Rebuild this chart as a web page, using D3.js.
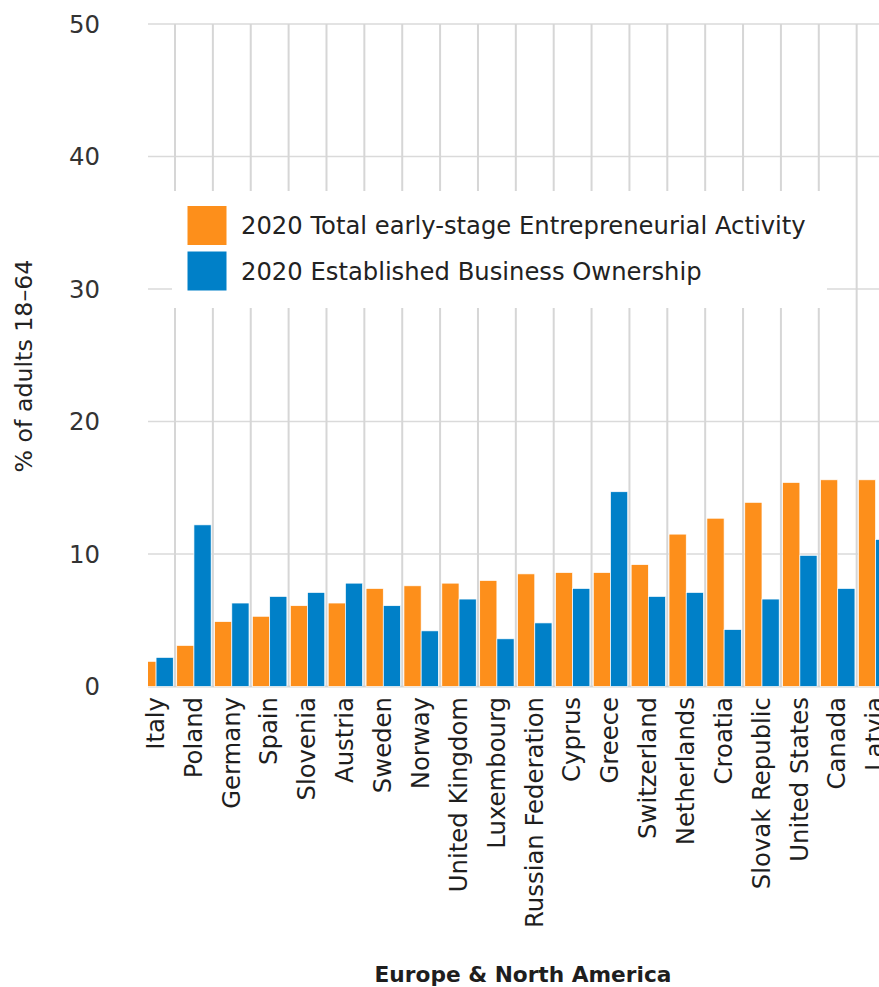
<!DOCTYPE html>
<html>
<head>
<meta charset="utf-8">
<script src="https://cdn.jsdelivr.net/npm/d3@7"></script>
<style>
  html, body { margin: 0; padding: 0; background: #fff; }
  svg { display: block; }
</style>
</head>
<body>
<div id="chart"></div>
<script>
const categories = ["Italy", "Poland", "Germany", "Spain", "Slovenia", "Austria", "Sweden", "Norway",
  "United Kingdom", "Luxembourg", "Russian Federation", "Cyprus", "Greece", "Switzerland",
  "Netherlands", "Croatia", "Slovak Republic", "United States", "Canada", "Latvia"];
const teaValues = [1.9, 3.1, 4.9, 5.3, 6.1, 6.3, 7.4, 7.6, 7.8, 8.0, 8.5, 8.6, 8.6, 9.2, 11.5, 12.7, 13.9, 15.4, 15.6, 15.6];
const eboValues = [2.2, 12.2, 6.3, 6.8, 7.1, 7.8, 6.1, 4.2, 6.6, 3.6, 4.8, 7.4, 14.7, 6.8, 7.1, 4.3, 6.6, 9.9, 7.4, 11.1];
const seriesNames = ["2020 Total early-stage Entrepreneurial Activity", "2020 Established Business Ownership"];
const yTicks = [0, 10, 20, 30, 40, 50];
const yTitle = "% of adults 18–64";
const xTitle = "Europe & North America";

const W = 879, H = 987;
const colors = ["#fd8f1b", "#0080c8"];
const FONT = "'DejaVu Sans', 'Open Sans', sans-serif";

const svg = d3.select("#chart").append("svg").attr("width", W).attr("height", H);

// font size that makes a string reach a target width
function fitSize(str, target, weight) {
  const t = svg.append("text").attr("font-family", FONT).attr("font-size", 20)
    .attr("font-weight", weight || 400).text(str);
  const w = t.node().getComputedTextLength();
  t.remove();
  return 20 * target / w;
}
const legendSize = fitSize(seriesNames[0], 565);
const labelSize = fitSize("Russian Federation", 231);
const xTitleSize = fitSize(xTitle, 297, 600);
const yTitleSize = fitSize(yTitle, 213);
const tickSize = fitSize("50", 31);

const plotLeft = 148, plotTop = 24, plotBottom = 686.5;
const bandStep = 37.87;
const firstBand = 175 - bandStep;

const x = d3.scaleBand().domain(categories)
  .range([firstBand, firstBand + bandStep * categories.length]).paddingInner(0).paddingOuter(0);
const xSub = d3.scaleBand().domain([0, 1]).range([0, x.bandwidth()]).paddingOuter(0.1).paddingInner(0);
const y = d3.scaleLinear().domain([0, 50]).range([plotBottom, plotTop]);

svg.append("defs").append("clipPath").attr("id", "plotclip")
  .append("rect").attr("x", plotLeft).attr("y", 0).attr("width", W - plotLeft).attr("height", plotBottom + 2);

const plot = svg.append("g").attr("clip-path", "url(#plotclip)");

// horizontal gridlines
plot.append("g").selectAll("line").data(yTicks.filter(d => d > 0)).join("line")
  .attr("x1", plotLeft).attr("x2", W)
  .attr("y1", d => y(d)).attr("y2", d => y(d))
  .attr("stroke", "#dadada").attr("stroke-width", 1.5);

// vertical gridlines at band boundaries
const bounds = categories.slice(1).map(c => x(c));
plot.append("g").selectAll("line").data(bounds).join("line")
  .attr("x1", d => d).attr("x2", d => d)
  .attr("y1", plotTop).attr("y2", plotBottom)
  .attr("stroke", "#d6d6d6").attr("stroke-width", 2);

// baseline
plot.append("line").attr("x1", plotLeft).attr("x2", W)
  .attr("y1", y(0)).attr("y2", y(0))
  .attr("stroke", "#d3d3d3").attr("stroke-width", 2);

// bars
const rows = categories.map((c, i) => ({ c, v: [teaValues[i], eboValues[i]] }));
const grp = plot.append("g").selectAll("g").data(rows).join("g")
  .attr("transform", d => `translate(${x(d.c)},0)`);
grp.selectAll("rect").data(d => d.v.map((v, k) => ({ v, k }))).join("rect")
  .attr("x", d => xSub(d.k))
  .attr("width", xSub.bandwidth())
  .attr("y", d => y(d.v))
  .attr("height", d => y(0) - y(d.v))
  .attr("fill", d => colors[d.k])
  .attr("stroke", "#ffffff").attr("stroke-width", 0.7);

// y axis labels
svg.append("g").selectAll("text").data(yTicks).join("text")
  .attr("x", 100).attr("y", d => y(d)).attr("dy", "0.36em")
  .attr("text-anchor", "end")
  .attr("font-family", FONT).attr("font-size", tickSize).attr("fill", "#333")
  .text(d => d);

// y title
svg.append("text")
  .attr("transform", "translate(23,366) rotate(-90)")
  .attr("text-anchor", "middle").attr("dy", "0.36em")
  .attr("font-family", FONT).attr("font-size", yTitleSize).attr("fill", "#222")
  .text(yTitle);

// x labels
svg.append("g").selectAll("text").data(categories).join("text")
  .attr("transform", d => `translate(${x(d) + x.bandwidth() / 2 - 1},697) rotate(-90)`)
  .attr("text-anchor", "end").attr("dy", "0.36em")
  .attr("font-family", FONT).attr("font-size", labelSize).attr("fill", "#1e1e1e")
  .text(d => d);

// x title
svg.append("text").attr("x", 523).attr("y", 982)
  .attr("text-anchor", "middle")
  .attr("font-family", FONT).attr("font-size", xTitleSize).attr("font-weight", 600).attr("fill", "#1e1e1e")
  .text(xTitle);

// legend
const lg = svg.append("g");
lg.append("rect").attr("x", 172).attr("y", 191).attr("width", 655).attr("height", 117).attr("fill", "#fff");
seriesNames.forEach((name, k) => {
  const yy = 205.5 + k * 45.5;
  lg.append("rect").attr("x", 187).attr("y", yy).attr("width", 40).attr("height", 40)
    .attr("fill", colors[k]).attr("stroke", "#fff").attr("stroke-width", 1);
  lg.append("text").attr("x", 241).attr("y", yy + 20).attr("dy", "0.36em")
    .attr("font-family", FONT).attr("font-size", legendSize).attr("fill", "#222")
    .text(name);
});
</script>
</body>
</html>
